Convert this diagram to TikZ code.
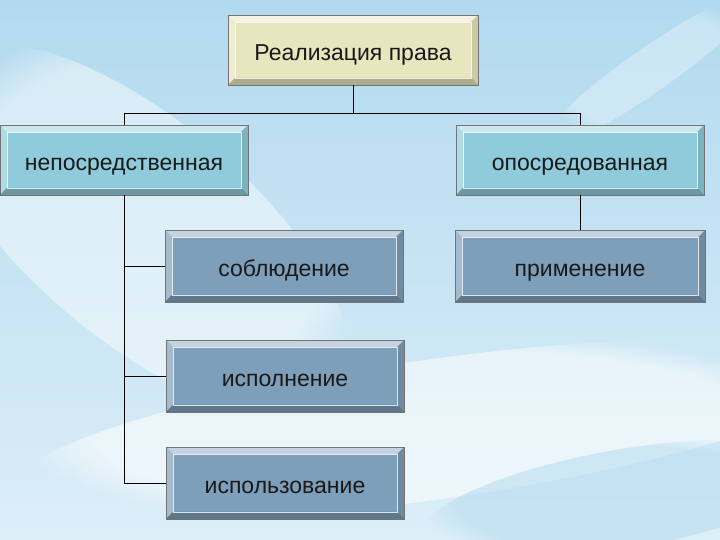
\documentclass[tikz,border=0pt]{standalone}
\usepackage{fontspec}
\setmainfont{Liberation Sans}
\usetikzlibrary{calc,fadings}
\definecolor{rootfill}{HTML}{E8E6BE}
\definecolor{kindfill}{HTML}{8FCBDB}
\definecolor{formfill}{HTML}{7E9FB9}
\definecolor{skytop}{HTML}{B2DAEF}
\definecolor{skylow}{HTML}{DCEEF8}

\begin{document}
\begin{tikzpicture}[x=1pt,y=1pt,
  bevelbox/.style={rectangle, draw=black!55, line width=0.4pt, fill=#1, minimum height=70, inner sep=0pt,
    align=center, font=\fontsize{23}{27}\selectfont, text=black!90, text height=26pt, text depth=4pt,
    path picture={
      \path (path picture bounding box.south west) coordinate (bl)
            (path picture bounding box.north east) coordinate (tr);
      \fill[white,opacity=.55] (bl|-tr) -- (tr) -- ($(tr)+(-7,-7)$) -- ($(bl|-tr)+(7,-7)$) -- cycle;
      \fill[white,opacity=.3] (bl|-tr) -- (bl) -- ($(bl)+(7,7)$) -- ($(bl|-tr)+(7,-7)$) -- cycle;
      \fill[black,opacity=.25] (bl) -- (tr|-bl) -- ($(tr|-bl)+(-7,7)$) -- ($(bl)+(7,7)$) -- cycle;
      \fill[black,opacity=.12] (tr|-bl) -- (tr) -- ($(tr)+(-7,-7)$) -- ($(tr|-bl)+(-7,7)$) -- cycle;
      \draw[white,opacity=.8,line width=0.8pt] ($(bl)+(7,7)$) rectangle ($(tr)+(-7,-7)$);
    }},
  link/.style={draw=black, line width=0.8pt}
]
  % sky
  \useasboundingbox (0,0) rectangle (720,540);
  \fill[top color=skytop, bottom color=skylow] (0,0) rectangle (720,540);
  \fill[white,opacity=.45,path fading=circle with fuzzy edge 20 percent,rotate around={-40:(140,310)}]
    (140,310) ellipse [x radius=260, y radius=110];
  \fill[white,opacity=.55,path fading=circle with fuzzy edge 20 percent,rotate around={8:(430,110)}]
    (430,110) ellipse [x radius=420, y radius=70];
  \fill[white,opacity=.3,path fading=circle with fuzzy edge 20 percent,rotate around={35:(650,470)}]
    (650,470) ellipse [x radius=130, y radius=22];
  \fill[skytop,opacity=.5,path fading=circle with fuzzy edge 20 percent,rotate around={10:(620,40)}]
    (620,40) ellipse [x radius=200, y radius=50];

  % boxes
  \node[bevelbox=rootfill, minimum width=250] (root) at (353,490) {Реализация права};
  \node[bevelbox=kindfill, minimum width=248] (direct) at (124,380) {непосредственная};
  \node[bevelbox=kindfill, minimum width=248] (indirect) at (580,380) {опосредованная};
  \node[bevelbox=formfill, minimum width=238, minimum height=72] (observe) at (284,274) {соблюдение};
  \node[bevelbox=formfill, minimum width=238, minimum height=72] (execute) at (285,164) {исполнение};
  \node[bevelbox=formfill, minimum width=238, minimum height=72] (use) at (285,57) {использование};
  \node[bevelbox=formfill, minimum width=250, minimum height=72] (apply) at (580,274) {применение};

  % links
  \coordinate (fork) at (353,427);
  \draw[link] (root.south) -- (fork);
  \draw[link] (fork) -| (direct.north);
  \draw[link] (fork) -| (indirect.north);
  \draw[link] (indirect.south) -- (apply.north);
  \draw[link] (direct.south) |- (observe.west);
  \draw[link] (direct.south) |- (execute.west);
  \draw[link] (direct.south) |- (use.west);
\end{tikzpicture}
\end{document}
